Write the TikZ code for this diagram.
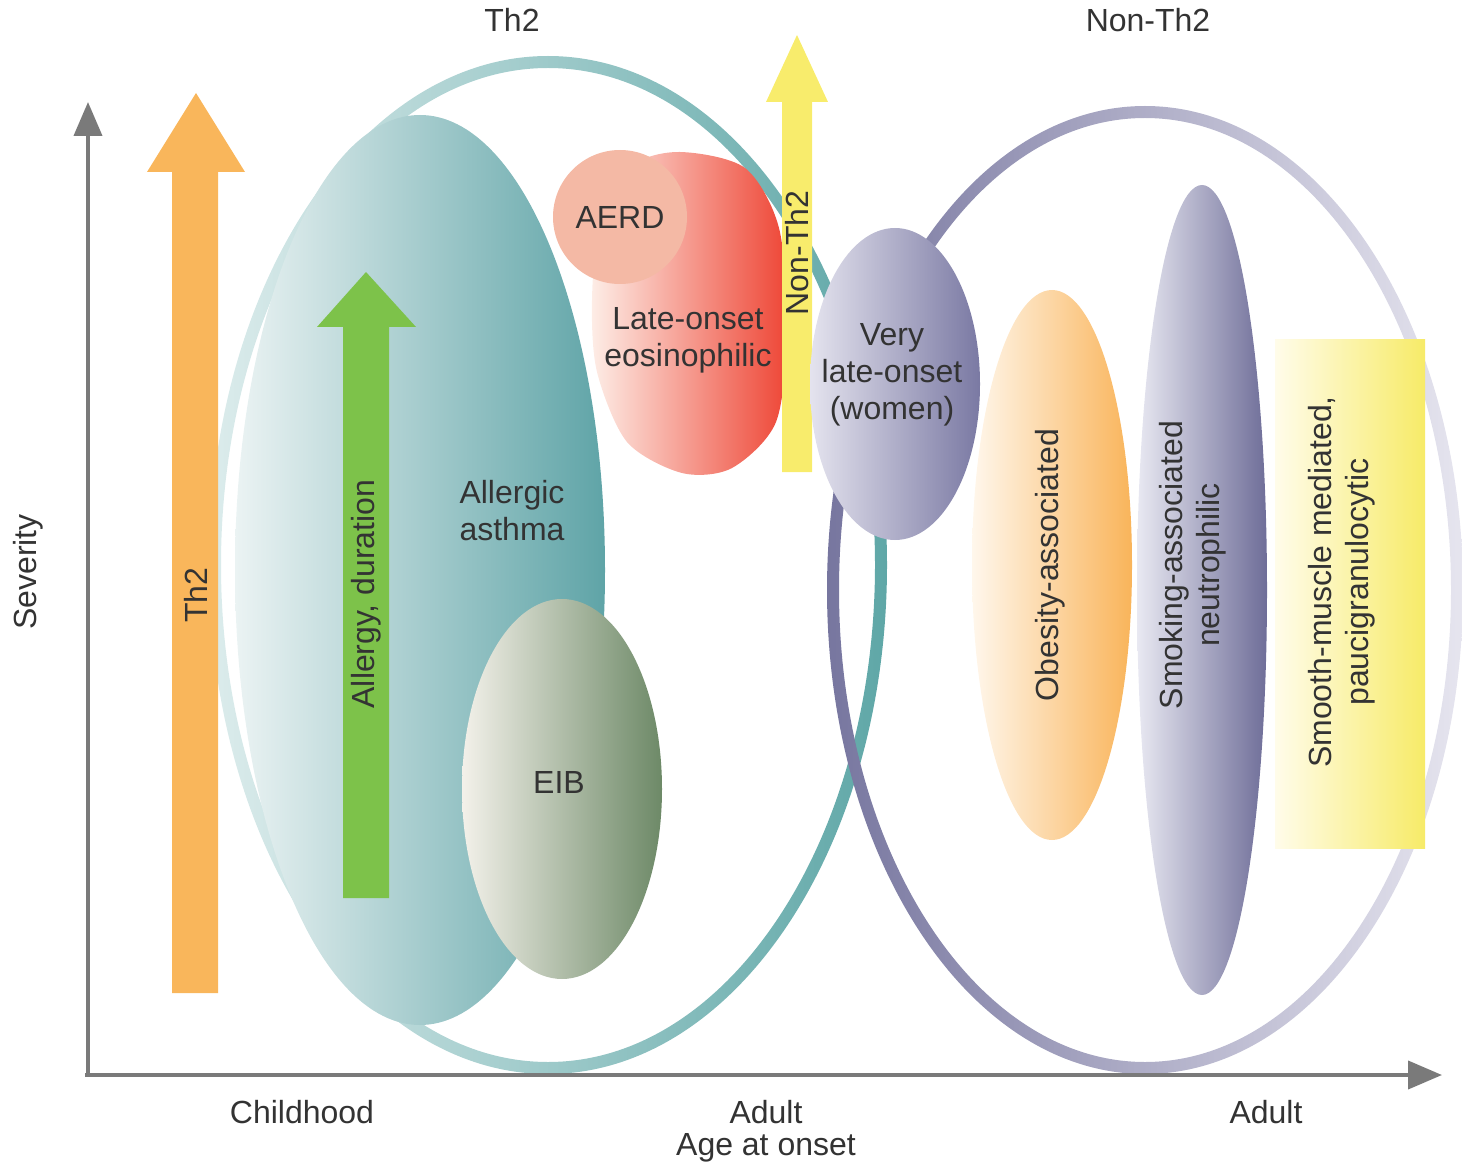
\documentclass[tikz,border=0pt]{standalone}
\usepackage{fontspec}
\setmainfont{Liberation Sans}
\usetikzlibrary{arrows.meta}

\definecolor{txt}{HTML}{333333}
\definecolor{axisgray}{HTML}{7A7A7A}
\definecolor{th2Light}{HTML}{DCECEC}
\definecolor{th2Mid}{HTML}{9CCACA}
\definecolor{th2Ring}{HTML}{5FA7A7}
\definecolor{nonRing}{HTML}{77769F}
\definecolor{nonMid}{HTML}{A9A8C6}
\definecolor{nonLight}{HTML}{E6E5EF}
\definecolor{th2Orange}{HTML}{F9B65B}
\definecolor{allergyGreen}{HTML}{7DC24A}
\definecolor{nonYellow}{HTML}{F8EC6C}
\definecolor{aaLight}{HTML}{EBF3F3}
\definecolor{aaDark}{HTML}{5FA4A7}
\definecolor{eibLight}{HTML}{F3F1EA}
\definecolor{eibDark}{HTML}{6D8967}
\definecolor{eoLight}{HTML}{FDEDE6}
\definecolor{eoRed}{HTML}{EE4636}
\definecolor{aerdPink}{HTML}{F4B9A5}
\definecolor{vlLight}{HTML}{E4E3EE}
\definecolor{vlDark}{HTML}{7A79A3}
\definecolor{obLight}{HTML}{FFF7EC}
\definecolor{obOrange}{HTML}{F9B45A}
\definecolor{smkLight}{HTML}{E9E9F2}
\definecolor{smkDark}{HTML}{6E6D98}
\definecolor{smLight}{HTML}{FFFCEA}
\definecolor{smYellow}{HTML}{F7EB68}

\begin{document}
\begin{tikzpicture}[x=0.5pt, y=-0.5pt,
    every node/.style={font=\fontsize{16}{18.5}\selectfont, text=txt, align=center, inner sep=0pt},
    axisline/.style={draw=axisgray, line width=2pt, -{Triangle[length=17pt,width=14pt]}},
    vlabel/.style={rotate=90}]
\useasboundingbox (0,0) rectangle (1462,1166);

% the two groups as rings
\shade[left color=th2Light, middle color=th2Mid, right color=th2Ring, even odd rule]
    (548,565) ellipse (339 and 509) (548,565) ellipse (327 and 497);
\shade[left color=nonRing, middle color=nonMid, right color=nonLight, even odd rule]
    (1145,590) ellipse (318 and 484) (1145,590) ellipse (306 and 472);

% axes
\coordinate (origin) at (88,1075);
\coordinate (yTop) at (88,102);
\coordinate (xEnd) at (1442,1075);
\draw[axisline] (origin) -- (yTop);
\draw[axisline] ([xshift=-1.5pt]origin) -- (xEnd);

% Th2 arrow
\fill[th2Orange] (172,993) -- (172,172) -- (147,172) -- (196,93) -- (245,172) -- (218,172) -- (218,993) -- cycle;
\node[vlabel] (th2Lbl) at (196,595) {Th2};

% allergic asthma
\shade[left color=aaLight, right color=aaDark] (420,570) ellipse (185 and 455);
\node (allergic) at (512,511) {Allergic\\asthma};
\fill[allergyGreen] (343,898) -- (343,327) -- (317,327) -- (366,272) -- (416,327) -- (389,327) -- (389,898) -- cycle;
\node[vlabel] (allergyLbl) at (366,594) {Allergy, duration};

% EIB
\shade[left color=eibLight, right color=eibDark] (562,789) ellipse (100 and 190);
\node (eib) at (559,782) {EIB};

% late-onset eosinophilic and AERD
\shade[left color=eoLight, right color=eoRed] plot[smooth cycle] coordinates
    {(680,152) (745,168) (779,228) (787,330) (776,422) (732,468) (682,473) (627,442) (597,372) (592,300) (600,222) (632,166)};
\fill[aerdPink] (620,217) circle (67);
\node (aerd) at (620,217) {AERD};
\node (lateEos) at (688,340) {Late-onset\\eosinophilic};

% Non-Th2 arrow
\fill[nonYellow] (782,472) -- (782,102) -- (766,102) -- (797,35) -- (828,102) -- (812,102) -- (812,472) -- cycle;
\node[vlabel] (nonTh2Lbl) at (797,253) {Non-Th2};

% very late-onset
\shade[left color=vlLight, right color=vlDark] (895,384) ellipse (85 and 156);
\node (veryLate) at (892,375) {Very\\late-onset\\(women)};

% non-Th2 phenotypes
\shade[left color=obLight, right color=obOrange] (1052,565) ellipse (80 and 275);
\node[vlabel] (obesity) at (1050,565) {Obesity-associated};
\shade[left color=smkLight, right color=smkDark] (1202,590) ellipse (65 and 405);
\node[vlabel] (smoking) at (1193,565) {Smoking-associated\\neutrophilic};
\shade[left color=smLight, right color=smYellow] (1275,340) rectangle (1425,848);
\node[vlabel] (smooth) at (1342,582) {Smooth-muscle mediated,\\paucigranulocytic};

% titles and axis labels
\node (th2Title) at (512,20) {Th2};
\node (nonTh2Title) at (1148,20) {Non-Th2};
\node[vlabel] (severity) at (28,572) {Severity};
\node (childhood) at (302,1112) {Childhood};
\node (adultMid) at (766,1112) {Adult};
\node (ageOnset) at (766,1148) {Age at onset};
\node (adultRight) at (1266,1112) {Adult};
\end{tikzpicture}
\end{document}
